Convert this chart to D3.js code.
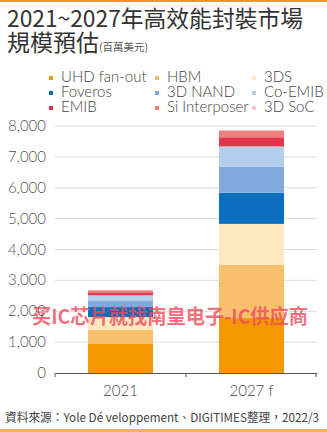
<!DOCTYPE html>
<html>
<head>
<meta charset="utf-8">
<script src="https://cdn.jsdelivr.net/npm/d3@7/dist/d3.min.js"></script>
<style>
  html, body { margin: 0; padding: 0; background: #fff; }
  svg { display: block; }
</style>
</head>
<body>
<svg id="chart" width="327" height="432"></svg>
<script>
// Market size forecast for high-performance packaging (USD millions)
const years = ["2021", "2027 f"];
const seriesNames = ["UHD fan-out", "HBM", "3DS", "Foveros", "3D NAND", "Co-EMIB", "EMIB", "Si Interposer", "3D SoC"];
const seriesColors = ["#F39800", "#F8C06C", "#FDE8C0", "#0B6EBE", "#80AADD", "#B5CEEC", "#E5354B", "#EF7E7E", "#F5C5CC"];
const values2021 = [940, 450, 420, 325, 220, 160, 75, 90, 10];
const values2027 = [1780, 1720, 1330, 1010, 835, 665, 295, 205, 35];
const yTicks = [0, 1000, 2000, 3000, 4000, 5000, 6000, 7000, 8000];

const svg = d3.select("#chart");
const latin = "Lato, 'Noto Sans', sans-serif";
const cjk = "'Noto Sans CJK TC', 'Noto Sans CJK SC', sans-serif";

// frame lines
svg.append("rect").attr("x", 0).attr("y", 0).attr("width", 327).attr("height", 2).attr("fill", "#F39800");
svg.append("rect").attr("x", 0).attr("y", 429).attr("width", 327).attr("height", 3).attr("fill", "#F6B35A");

// title
svg.append("text").attr("x", 7).attr("y", 27)
  .attr("font-family", cjk).attr("font-size", 23).attr("fill", "#333")
  .attr("textLength", 296).attr("lengthAdjust", "spacingAndGlyphs")
  .text("2021~2027年高效能封裝市場");
const t2 = svg.append("text").attr("x", 7).attr("y", 51)
  .attr("font-family", cjk).attr("fill", "#333");
t2.append("tspan").attr("font-size", 23).text("規模預估");
t2.append("tspan").attr("font-size", 10.5).attr("fill", "#555").text("(百萬美元)");

// legend
const legCols = [49, 155, 252];
const legRows = [82, 97, 112];
seriesNames.forEach((name, i) => {
  const cx = legCols[i % 3], cy = legRows[Math.floor(i / 3)];
  svg.append("rect").attr("x", cx).attr("y", cy - 6).attr("width", 4).attr("height", 4)
    .attr("fill", seriesColors[i]);
  svg.append("text").attr("x", cx + 12).attr("y", cy)
    .attr("font-family", latin).attr("font-weight", 300).attr("font-size", 15)
    .attr("fill", "#444").text(name);
});

// scales
const x = d3.scaleBand().domain(years).range([55, 317]).paddingInner(0).paddingOuter(0);
const y = d3.scaleLinear().domain([0, 8000]).range([373, 126]);
const barW = 65;

// gridlines
svg.append("g").selectAll("line").data(yTicks.slice(1)).join("line")
  .attr("x1", 55).attr("x2", 317)
  .attr("y1", d => y(d)).attr("y2", d => y(d))
  .attr("stroke", "#dcdcdc").attr("stroke-width", 1);

// y tick labels
svg.append("g").selectAll("text").data(yTicks).join("text")
  .attr("x", 46).attr("y", d => y(d) + 5)
  .attr("text-anchor", "end")
  .attr("font-family", latin).attr("font-weight", 300).attr("font-size", 15)
  .attr("fill", "#555").text(d => d3.format(",")(d));

// stacked bars
const rows = [values2021, values2027].map((vals, j) => {
  const o = { year: years[j] };
  seriesNames.forEach((n, i) => o[n] = vals[i]);
  return o;
});
const stacked = d3.stack().keys(seriesNames)(rows);
svg.append("g").selectAll("g").data(stacked).join("g")
  .attr("fill", (d, i) => seriesColors[i])
  .selectAll("rect").data(d => d).join("rect")
  .attr("x", d => x(d.data.year) + (x.bandwidth() - barW) / 2)
  .attr("width", barW)
  .attr("y", d => y(d[1]))
  .attr("height", d => y(d[0]) - y(d[1]));

// x axis
const xAxis = d3.axisBottom(x).tickSize(0).tickPadding(12).tickFormat(d => d);
const gx = svg.append("g").attr("transform", `translate(0,${y(0)})`).call(xAxis);
gx.select(".domain").attr("stroke", "#555");
gx.selectAll("text").attr("font-family", latin).attr("font-weight", 300)
  .attr("font-size", 15).attr("fill", "#444");
[55, 186, 316].forEach(px => {
  gx.append("line").attr("x1", px).attr("x2", px).attr("y1", 0).attr("y2", 4).attr("stroke", "#555");
});

// watermark
svg.append("text").attr("x", 32).attr("y", 324)
  .attr("font-family", cjk).attr("font-weight", 700).attr("font-size", 20)
  .attr("textLength", 276).attr("lengthAdjust", "spacingAndGlyphs")
  .attr("fill", "#EE4A5C").attr("fill-opacity", 0.8)
  .text("买IC芯片就找南皇电子-IC供应商");

// source note
svg.append("text").attr("x", 5).attr("y", 422)
  .attr("font-family", cjk).attr("font-size", 12).attr("fill", "#444")
  .attr("textLength", 314).attr("lengthAdjust", "spacingAndGlyphs")
  .text("資料來源：Yole Dé veloppement、DIGITIMES整理，2022/3");
</script>
</body>
</html>
